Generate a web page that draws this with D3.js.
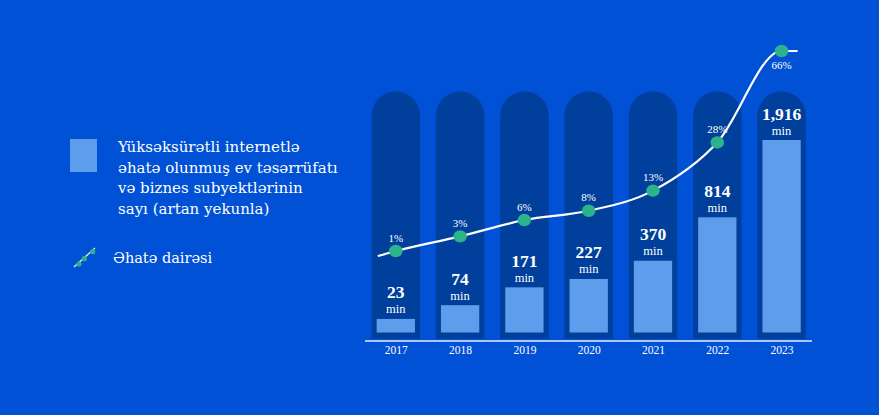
<!DOCTYPE html>
<html><head><meta charset="utf-8">
<script src="https://cdn.jsdelivr.net/npm/d3@7"></script>
<style>
html,body{margin:0;padding:0;background:#0051d5;}
svg{display:block;}
text{fill:#ffffff;}
</style></head>
<body>
<svg id="c" width="879" height="415"></svg>
<script>
const years = ["2017","2018","2019","2020","2021","2022","2023"];
const households = [23, 74, 171, 227, 370, 814, 1916];
const householdLabels = ["23","74","171","227","370","814","1,916"];
const coverage = [1, 3, 6, 8, 13, 28, 66];
const coverageLabels = ["1%","3%","6%","8%","13%","28%","66%"];
const unit = "min";
const legendBarLines = ["Yüksəksürətli internetlə","əhatə olunmuş ev təsərrüfatı","və biznes subyektlərinin","sayı (artan yekunla)"];
const legendLine = "Əhatə dairəsi";

const C = {bg:"#0051d5", pill:"#003f9b", bar:"#5e9deb", green:"#2cb38b", white:"#ffffff"};
const SERIF = '"Liberation Serif", serif';
const LEG = '"DejaVu Serif", serif';
const svg = d3.select("#c");
svg.append("rect").attr("width",879).attr("height",415).attr("fill",C.bg);

const x = d3.scalePoint().domain(years).range([395.8, 781.6]);
const baseY = 332.5;
const h = d3.scalePow().exponent(0.6).domain([0, 1916]).range([0, 192.5]);
const yP = d3.scalePow().exponent(0.65).domain([1, 66]).range([251, 51]);

const pillW = 48.5, pillTop = 91.5, pillBottom = 339, r = pillW/2;
const barW = 38.3;

// pills
svg.append("g").selectAll("path").data(years).join("path")
  .attr("fill", C.pill)
  .attr("d", d => {
    const cx = x(d), l = cx - r, rr = cx + r;
    return `M${l},${pillBottom} L${l},${pillTop + r} A${r},${r} 0 0 1 ${rr},${pillTop + r} L${rr},${pillBottom} Z`;
  });

// bars
svg.append("g").selectAll("rect").data(households).join("rect")
  .attr("x", (d,i) => x(years[i]) - barW/2)
  .attr("width", barW)
  .attr("y", d => baseY - h(d))
  .attr("height", d => h(d))
  .attr("fill", C.bar);

// value labels
const vl = svg.append("g").attr("text-anchor","middle").style("font-family", SERIF);
households.forEach((v,i) => {
  const top = baseY - h(v);
  vl.append("text").attr("x", x(years[i])).attr("y", top - 20.5)
    .style("font-size", "17.5px").style("font-weight","bold").text(householdLabels[i]);
  vl.append("text").attr("x", x(years[i])).attr("y", top - 5.5)
    .style("font-size", "12.5px").text(unit);
});

// axis baseline
svg.append("line").attr("x1",365).attr("x2",812).attr("y1",341).attr("y2",341)
  .attr("stroke","#e6eefc").attr("stroke-width",1.5);

// year labels
const xAxis = d3.axisBottom(x).tickSize(0).tickPadding(0);
const ax = svg.append("g").attr("transform","translate(0,354)").call(xAxis);
ax.select(".domain").remove();
ax.selectAll("text").attr("dy",0).style("font-size","11.5px").style("font-family",SERIF).attr("fill","#ffffff");

// line
const pts = coverage.map((v,i) => [x(years[i]), yP(v)]);
const first = pts[0], last = pts[pts.length-1];
const linePts = [[first[0]-18, first[1]+5], ...pts, [last[0]+16, last[1]]];
svg.append("path").attr("d", d3.line().curve(d3.curveMonotoneX)(linePts))
  .attr("fill","none").attr("stroke",C.white).attr("stroke-width",2.2);

svg.append("g").selectAll("ellipse").data(pts).join("ellipse")
  .attr("cx", d => d[0]).attr("cy", d => d[1]).attr("rx",6.8).attr("ry",6.2)
  .attr("fill", C.green);

svg.append("g").attr("text-anchor","middle").style("font-family", SERIF)
  .selectAll("text").data(coverage).join("text")
  .attr("x", (d,i) => x(years[i]))
  .attr("y", (d,i) => i === coverage.length-1 ? yP(d) + 18 : yP(d) - 9.5)
  .style("font-size", "11px").text((d,i) => coverageLabels[i]);

// legend
svg.append("rect").attr("x",70).attr("y",139).attr("width",27).attr("height",33).attr("fill",C.bar);
const lt = svg.append("text").attr("x",118).attr("y",152).style("font-size","15px").style("font-family",LEG);
legendBarLines.forEach((s,i) => lt.append("tspan").attr("x",118).attr("y",152 + i*20.7).text(s));

svg.append("line").attr("x1",74).attr("y1",267).attr("x2",95).attr("y2",248)
  .attr("stroke","#e6eefc").attr("stroke-width",1.3);
[[79,264],[84.3,258.7],[92.7,251.7]].forEach(p => svg.append("circle").attr("cx",p[0]).attr("cy",p[1]).attr("r",2.6).attr("fill",C.green));
svg.append("text").attr("x",113).attr("y",263).style("font-size","14.5px").style("font-family",LEG).text(legendLine);
</script>
</body></html>
